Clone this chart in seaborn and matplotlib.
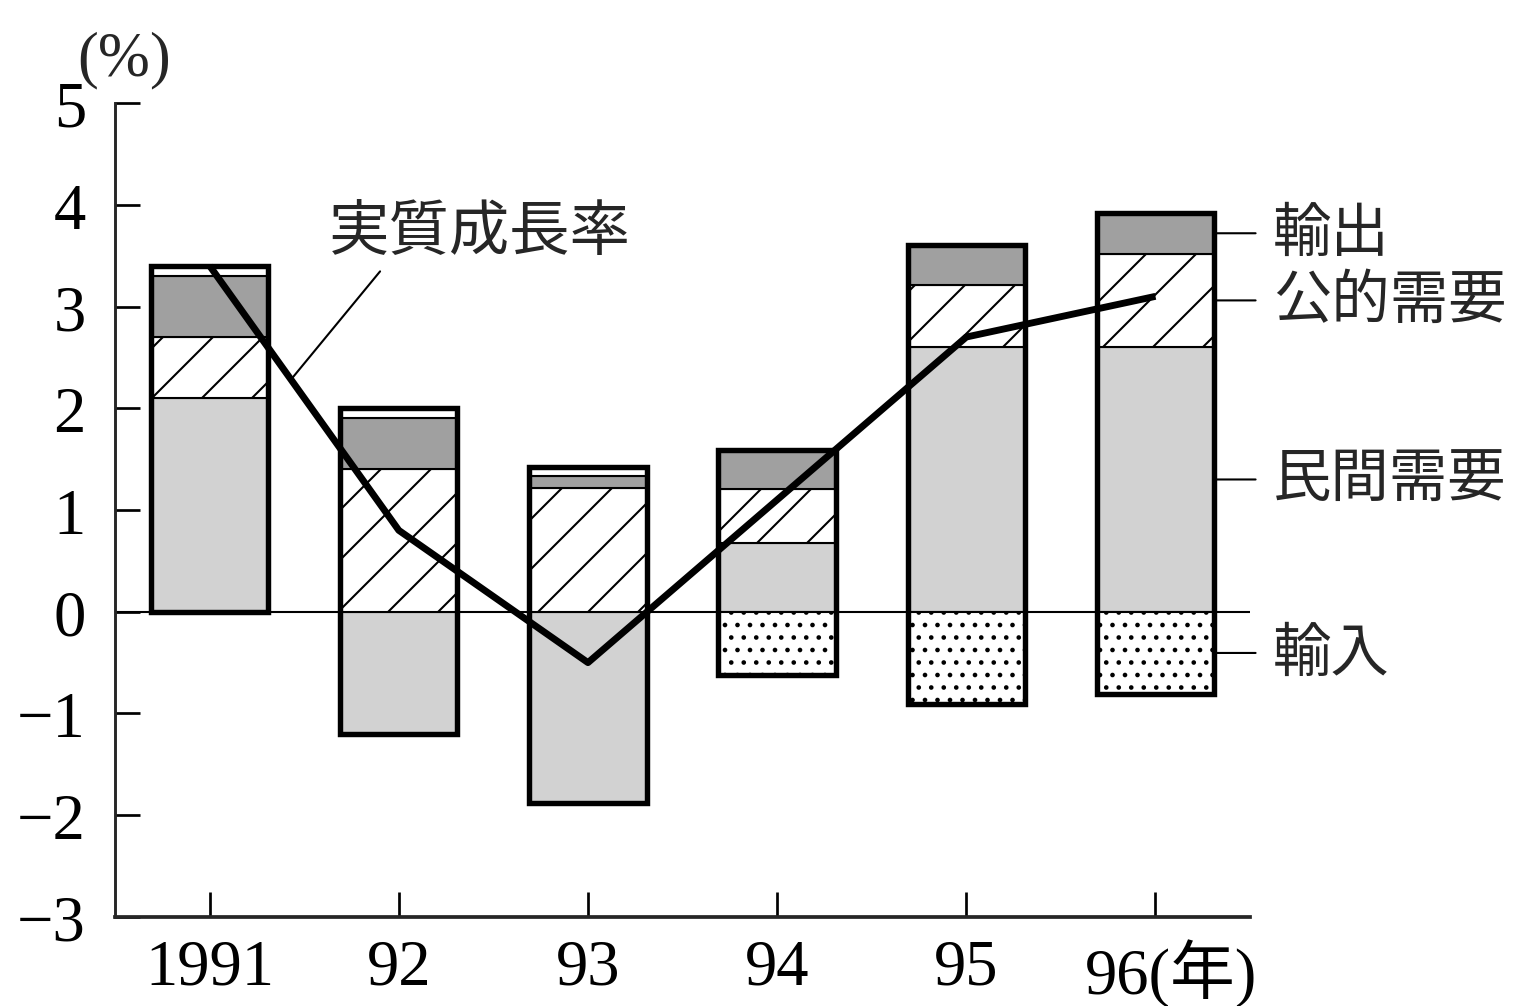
import numpy as np
import matplotlib
matplotlib.use("Agg")
import matplotlib.pyplot as plt
import matplotlib.transforms as mtransforms
import seaborn as sns

# 寄与度 (%)
years = ["1991", "92", "93", "94", "95", "96"]
private_demand = [2.10, -1.20, -1.88, 0.68, 2.60, 2.60]
public_demand = [0.60, 1.40, 1.22, 0.53, 0.61, 0.92]
exports = [0.60, 0.50, 0.11, 0.38, 0.39, 0.40]
imports = [0.10, 0.10, 0.09, -0.62, -0.91, -0.81]
real_growth = [3.40, 0.80, -0.50, 1.10, 2.70, 3.10]

series_labels = ["民間需要", "公的需要", "輸出", "輸入"]
tick_labels = years[:-1] + ["96(年)"]
y_ticks = list(range(-3, 6))

sns.set_style("ticks", {"xtick.direction": "in", "ytick.direction": "in"})
plt.rcParams["font.family"] = ["Liberation Serif", "Noto Sans CJK JP"]
plt.rcParams["hatch.linewidth"] = 1.0
jp = ["Noto Sans CJK JP"]

fig = plt.figure(figsize=(1528 / 150, 1007 / 150), dpi=150)
ax = fig.add_axes([0.0753, 0.0884, 0.7428, 0.8083])

bar_w = 0.62
styles = [
    dict(color="#d2d2d2", hatch=None),
    dict(color="white", hatch="/"),
    dict(color="#a0a0a0", hatch=None),
    dict(color="white", hatch=".."),
]

n = len(years)
pos_base = np.zeros(n)
neg_base = np.zeros(n)
mids = []
for vals, st in zip([private_demand, public_demand, exports, imports], styles):
    vals = np.asarray(vals, dtype=float)
    bottom = np.where(vals >= 0, pos_base, neg_base)
    sns.barplot(x=years, y=vals, bottom=bottom, color=st["color"], hatch=st["hatch"],
                saturation=1, edgecolor="black", linewidth=1.0, width=bar_w,
                errorbar=None, ax=ax, zorder=2)
    mids.append(bottom[-1] + vals[-1] / 2)
    pos_base += np.clip(vals, 0, None)
    neg_base += np.clip(vals, None, 0)

# the thin positive import strips (91-93) are plain white in the original
for bar, v in zip(ax.patches[-n:], imports):
    if v > 0:
        bar.set_hatch(None)

# heavy outline round each stacked column
sns.barplot(x=years, y=pos_base - neg_base, bottom=neg_base, fill=False,
            color="black", edgecolor="black", facecolor="none", linewidth=2.6,
            width=bar_w, errorbar=None, ax=ax, zorder=3)

ax.axhline(0, color="black", lw=1.0, zorder=1)

sns.lineplot(x=np.arange(n), y=real_growth, color="black", linewidth=3.3,
             errorbar=None, ax=ax, zorder=5, solid_capstyle="butt")

ax.set_xlim(-0.5, n - 0.5)
ax.set_ylim(-3, 5)
ax.set_yticks(y_ticks)
ax.set_yticklabels([f"−{abs(v)}" if v < 0 else str(v) for v in y_ticks])
ax.set_xticks(range(n))
ax.set_xticklabels(tick_labels)
ax.set_xlabel("")
ax.set_ylabel("")
sns.despine(ax=ax)
ax.spines["left"].set_linewidth(1.4)
ax.spines["bottom"].set_linewidth(1.8)
ax.tick_params(axis="both", direction="in", length=12, width=1.3,
               labelsize=31, colors="black")
ax.tick_params(axis="y", pad=14)
ax.tick_params(axis="x", pad=10)

last = ax.get_xticklabels()[-1]
last.set_horizontalalignment("left")
last.set_transform(last.get_transform()
                   + mtransforms.ScaledTranslation(-71 / 150, 0, fig.dpi_scale_trans))

ax.text(-0.45, 5.43, "(%)", ha="center", va="center", fontsize=30, clip_on=False)

# labels for the segments, pointing at the 1996 column
x_edge = n - 1 + bar_w / 2
for label, mid in zip(series_labels, mids):
    ax.annotate(label, xy=(x_edge, mid), xytext=(x_edge + 0.31, mid),
                ha="left", va="center", fontsize=28, family=jp,
                annotation_clip=False,
                arrowprops=dict(arrowstyle="-", lw=1.0, color="black",
                                relpos=(0, 0.5), shrinkA=6, shrinkB=0))

t = 0.43
ax.annotate("実質成長率",
            xy=(t, real_growth[0] + t * (real_growth[1] - real_growth[0])),
            xytext=(1.43, 3.73), ha="center", va="center", fontsize=29, family=jp,
            arrowprops=dict(arrowstyle="-", lw=1.0, color="black",
                            relpos=(0.19, 0), shrinkA=2, shrinkB=0))

fig.savefig("out.png", dpi=150)
